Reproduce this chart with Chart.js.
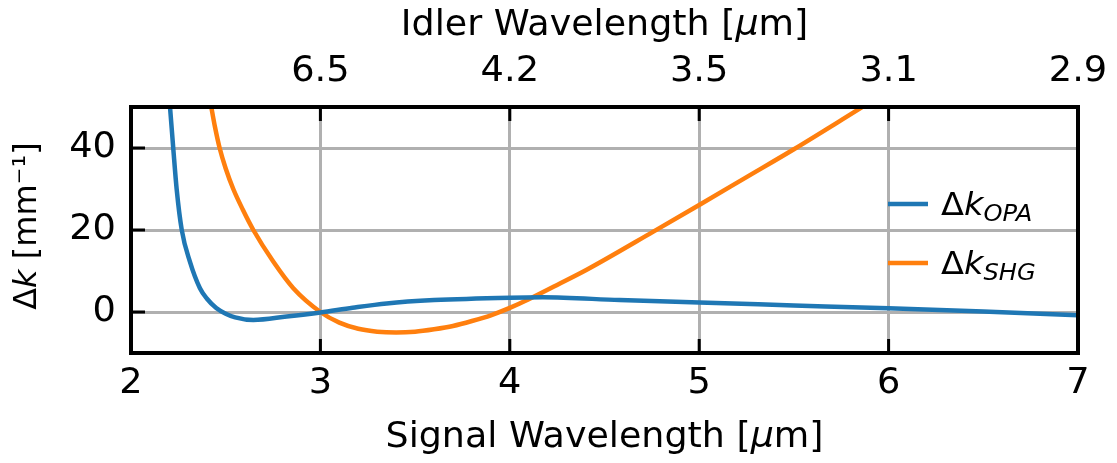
<!DOCTYPE html>
<html>
<head>
<meta charset="utf-8">
<script src="https://cdn.jsdelivr.net/npm/chart.js@4"></script>
<style>
    html, body { margin: 0; padding: 0; background: #fff; }
    #wrap { width: 1117px; height: 463px; }
</style>
</head>
<body>
<div id="wrap"><canvas id="dkChart" width="1117" height="463"></canvas></div>
<script>
const FONT = '"DejaVu Sans", sans-serif';
const COLORS = {
    blue: '#1f77b4',
    orange: '#ff7f0e',
    grid: '#b0b0b0',
    frame: '#000000',
};
const STRETCH = 1.05; // horizontal text in the original is drawn a bit wider

// Δk_OPA (signal wavelength in µm, Δk in mm^-1)
const opaSignal = [2.195, 2.206, 2.223, 2.241, 2.268, 2.311, 2.364, 2.40, 2.45, 2.50, 2.55, 2.646, 2.822, 3.0, 3.17, 3.35, 3.6, 4.0, 4.175, 4.58, 5.0, 5.5, 6.0, 6.5, 7.0];
const opaDk     = [56, 50, 40, 30, 20, 12.3, 5.8, 3.3, 1.0, -0.4, -1.3, -1.95, -1.1, -0.1, 1.05, 2.1, 2.9, 3.5, 3.6, 2.9, 2.3, 1.6, 0.9, 0.1, -0.8];

// Δk_SHG
const shgSignal = [2.405, 2.424, 2.444, 2.468, 2.5, 2.54, 2.59, 2.646, 2.751, 2.857, 3.0, 3.1, 3.2, 3.3, 3.4, 3.5, 3.6, 3.7, 3.8, 3.9, 4.0, 4.1, 4.25, 4.406, 4.758, 5.0, 5.25, 5.5, 5.75, 5.858, 5.95];
const shgDk     = [55, 50, 45, 40, 35, 30, 25, 20, 12.3, 5.8, 0, -2.6, -4.1, -4.8, -5.0, -4.8, -4.2, -3.4, -2.2, -0.8, 1.0, 3.1, 6.6, 10.3, 19.6, 26.1, 32.9, 39.7, 46.8, 49.9, 52.6];

// axes
const signalTicks = [2, 3, 4, 5, 6, 7];
const idlerTickPos = [3, 4, 5, 6, 7];
const idlerTickLabels = ['6.5', '4.2', '3.5', '3.1', '2.9'];
const dkTicks = [0, 20, 40];

const seriesSubs = ['OPA', 'SHG'];
const seriesColors = [COLORS.blue, COLORS.orange];

function toPoints(xs, ys) {
    return xs.map((x, i) => ({ x: x, y: ys[i] }));
}

// draws a run of text pieces (to mix italic/subscripts), stretched horizontally by sx
function drawRuns(ctx, runs, x, y, align, sx) {
    let total = 0;
    runs.forEach(r => { ctx.font = r.font; total += ctx.measureText(r.t).width; });
    let start = x;
    if (align === 'center') start = x - total * sx / 2;
    if (align === 'right') start = x - total * sx;
    ctx.save();
    ctx.translate(start, y);
    ctx.scale(sx, 1);
    ctx.textAlign = 'left';
    let cx = 0;
    runs.forEach(r => {
        ctx.font = r.font;
        ctx.fillText(r.t, cx, r.dy || 0);
        cx += ctx.measureText(r.t).width;
    });
    ctx.restore();
}

const f = (size, italic) => (italic ? 'italic ' : '') + size + 'px ' + FONT;

// inward ticks + black frame, drawn over the curves like matplotlib spines
const framePlugin = {
    id: 'frame',
    afterDatasetsDraw(chart) {
        const { ctx, chartArea: a, scales } = chart;
        const len = 14;
        ctx.save();
        ctx.strokeStyle = COLORS.frame;
        ctx.lineWidth = 3;
        ctx.beginPath();
        signalTicks.forEach(v => {
            const px = scales.x.getPixelForValue(v);
            ctx.moveTo(px, a.bottom); ctx.lineTo(px, a.bottom - len);
        });
        idlerTickPos.forEach(v => {
            const px = scales.x2.getPixelForValue(v);
            ctx.moveTo(px, a.top); ctx.lineTo(px, a.top + len);
        });
        dkTicks.forEach(v => {
            const py = scales.y.getPixelForValue(v);
            ctx.moveTo(a.left, py); ctx.lineTo(a.left + len, py);
        });
        ctx.stroke();
        ctx.lineWidth = 4;
        ctx.strokeRect(a.left, a.top, a.right - a.left, a.bottom - a.top);
        ctx.restore();
    }
};

// tick labels, axis titles and legend (mathtext-like pieces)
const textPlugin = {
    id: 'mathText',
    afterDraw(chart) {
        const { ctx, chartArea: a, scales } = chart;
        ctx.save();
        ctx.fillStyle = '#000';

        ctx.textBaseline = 'middle';
        signalTicks.forEach(v => {
            drawRuns(ctx, [{ t: String(v), font: f(35) }], scales.x.getPixelForValue(v), a.bottom + 31, 'center', STRETCH);
        });
        idlerTickPos.forEach((v, i) => {
            drawRuns(ctx, [{ t: idlerTickLabels[i], font: f(35) }], scales.x2.getPixelForValue(v), a.top - 35, 'center', STRETCH);
        });
        dkTicks.forEach(v => {
            drawRuns(ctx, [{ t: String(v), font: f(35) }], a.left - 15, scales.y.getPixelForValue(v), 'right', STRETCH);
        });

        const cx = (a.left + a.right) / 2;
        drawRuns(ctx, [
            { t: 'Signal Wavelength [', font: f(35) },
            { t: 'μ', font: f(35, true) },
            { t: 'm]', font: f(35) }
        ], cx, 438, 'center', 1.04);
        drawRuns(ctx, [
            { t: 'Idler Wavelength [', font: f(35) },
            { t: 'μ', font: f(35, true) },
            { t: 'm]', font: f(35) }
        ], cx, 26, 'center', 1.04);

        // legend
        ctx.textBaseline = 'alphabetic';
        seriesSubs.forEach((sub, i) => {
            const ly = a.top + 97 + i * 59;
            ctx.strokeStyle = seriesColors[i];
            ctx.lineWidth = 4.5;
            ctx.beginPath();
            ctx.moveTo(888, ly); ctx.lineTo(928, ly);
            ctx.stroke();
            drawRuns(ctx, [
                { t: 'Δ', font: f(32) },
                { t: 'k', font: f(32, true) },
                { t: sub, font: f(23, true), dy: 6 }
            ], 941, ly + 11, 'left', STRETCH);
        });

        // y axis title, rotated
        ctx.translate(36, (a.top + a.bottom) / 2 - 4);
        ctx.rotate(-Math.PI / 2);
        drawRuns(ctx, [
            { t: 'Δ', font: f(32) },
            { t: 'k', font: f(32, true) },
            { t: ' [mm⁻¹]', font: f(32) }
        ], 0, 0, 'center', 1);
        ctx.restore();
    }
};

const ctx = document.getElementById('dkChart').getContext('2d');
new Chart(ctx, {
    type: 'line',
    data: {
        datasets: [
            {
                label: 'Δk_OPA',
                data: toPoints(opaSignal, opaDk),
                borderColor: COLORS.blue,
                borderWidth: 4.5,
                pointRadius: 0,
                cubicInterpolationMode: 'monotone',
                xAxisID: 'x',
                yAxisID: 'y'
            },
            {
                label: 'Δk_SHG',
                data: toPoints(shgSignal, shgDk),
                borderColor: COLORS.orange,
                borderWidth: 4.5,
                pointRadius: 0,
                cubicInterpolationMode: 'monotone',
                xAxisID: 'x',
                yAxisID: 'y'
            }
        ]
    },
    options: {
        responsive: false,
        animation: false,
        devicePixelRatio: 1,
        layout: { padding: { left: 0, right: 39, top: 0, bottom: 0 } },
        plugins: {
            legend: { display: false },
            tooltip: { enabled: false }
        },
        scales: {
            x: {
                type: 'linear',
                position: 'bottom',
                min: 2,
                max: 7,
                afterBuildTicks: s => { s.ticks = signalTicks.map(v => ({ value: v })); },
                afterFit: s => { s.height = 110; },
                ticks: { display: false },
                grid: { color: COLORS.grid, lineWidth: 3, drawTicks: false },
                border: { display: false }
            },
            x2: {
                type: 'linear',
                position: 'top',
                min: 2,
                max: 7,
                afterBuildTicks: s => { s.ticks = idlerTickPos.map(v => ({ value: v })); },
                afterFit: s => { s.height = 107; },
                ticks: { display: false },
                grid: { display: false, drawTicks: false },
                border: { display: false }
            },
            y: {
                type: 'linear',
                min: -10,
                max: 50,
                afterBuildTicks: s => { s.ticks = dkTicks.map(v => ({ value: v })); },
                afterFit: s => { s.width = 131; },
                ticks: { display: false },
                grid: { color: COLORS.grid, lineWidth: 3, drawTicks: false },
                border: { display: false }
            }
        }
    },
    plugins: [framePlugin, textPlugin]
});
</script>
</body>
</html>
